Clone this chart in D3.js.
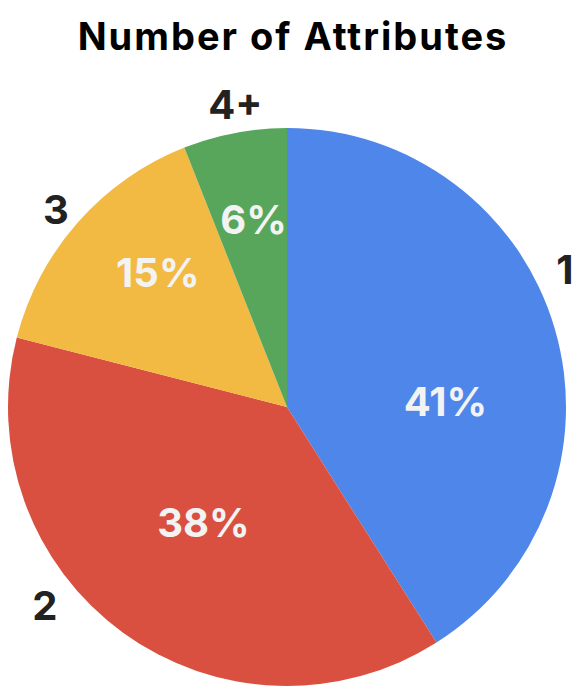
<!DOCTYPE html>
<html>
<head>
<meta charset="utf-8">
<script src="https://cdn.jsdelivr.net/npm/d3@7"></script>
<style>
  body { margin: 0; background: #fff; }
  text { font-family: Inter, "Noto Sans", sans-serif; font-weight: 700; }
</style>
</head>
<body>
<div id="pie_chart"></div>
<script>
var categories = ["1", "2", "3", "4+"];
var shares = [41, 38, 15, 6];
var colors = ["#4e86ea", "#da5040", "#f2ba42", "#58a65c"];

var width = 581, height = 694;
var cx = 287, cy = 407, radius = 279;

var svg = d3.select("#pie_chart")
    .append("svg")
    .attr("width", width)
    .attr("height", height);

// title
svg.append("text")
    .attr("x", 293)
    .attr("y", 50)
    .attr("text-anchor", "middle")
    .attr("font-size", 38)
    .attr("letter-spacing", 2)
    .attr("fill", "#000")
    .text("Number of Attributes");

var data = categories.map(function(c, i) { return {cat: c, value: shares[i], color: colors[i]}; });

var pie = d3.pie().sort(null).value(function(d) { return d.value; });
var arcs = pie(data);

var arc = d3.arc().innerRadius(0).outerRadius(radius);

var g = svg.append("g").attr("transform", "translate(" + cx + "," + cy + ")");

g.selectAll(".slice")
    .data(arcs)
    .enter().append("path")
    .attr("class", "slice")
    .attr("d", arc)
    .attr("fill", function(d) { return d.data.color; });

// percent labels inside, nudged a bit like the original renderer does
var inRadius = [0.58, 0.51, 0.67, 0.68];
var inNudge = [[3, 40], [0, 0], [11, -11], [2, -1]];
g.selectAll(".pct")
    .data(arcs)
    .enter().append("text")
    .attr("class", "pct")
    .attr("transform", function(d, i) {
        var c = d3.arc().innerRadius(radius * inRadius[i]).outerRadius(radius * inRadius[i]).centroid(d);
        return "translate(" + (c[0] + inNudge[i][0]) + "," + (c[1] + inNudge[i][1]) + ")";
    })
    .attr("text-anchor", "middle")
    .attr("dy", "0.36em")
    .attr("font-size", 40)
    .attr("fill", "#f3f3f3")
    .text(function(d) { return d.data.value + "%"; });

// category labels outside
var outRadius = 308;
var outNudge = [[-18, -51], [-61, -51], [0, 6], [6, 0]];
g.selectAll(".cat")
    .data(arcs)
    .enter().append("text")
    .attr("class", "cat")
    .attr("transform", function(d, i) {
        var c = d3.arc().innerRadius(outRadius).outerRadius(outRadius).centroid(d);
        return "translate(" + (c[0] + outNudge[i][0]) + "," + (c[1] + outNudge[i][1]) + ")";
    })
    .attr("text-anchor", "middle")
    .attr("dy", "0.36em")
    .attr("font-size", 40)
    .attr("fill", "#222")
    .text(function(d) { return d.data.cat; });
</script>
</body>
</html>
